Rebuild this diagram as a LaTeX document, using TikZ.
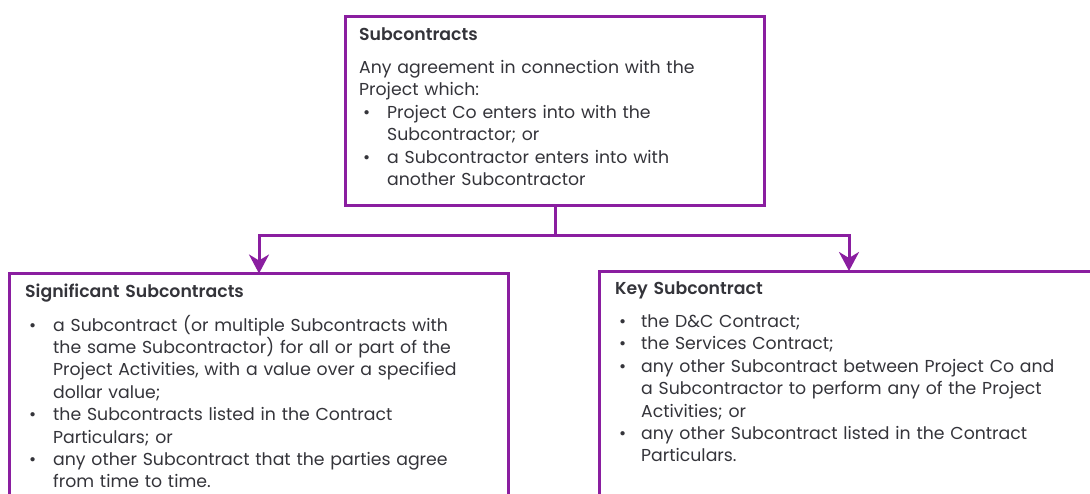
\documentclass[tikz,border=0pt]{standalone}
\usepackage{fontspec}
\setmainfont{Poppins}[BoldFont={Poppins SemiBold}]
\usetikzlibrary{arrows.meta,positioning}

\definecolor{vicpurple}{RGB}{138,30,160}
\definecolor{bodygrey}{RGB}{52,52,58}

% bullet line with hanging indent
\newcommand{\bpoint}[2][28pt]{\par\hangindent=#1\hangafter=1\noindent\makebox[#1][l]{\hspace{4pt}\textbullet}#2}

\tikzset{
    frame/.style={draw=vicpurple, line width=3pt, inner sep=0pt, outer sep=0pt, anchor=north west},
    copy/.style={anchor=north west, inner sep=0pt, text width=490pt, align=left,
        text=bodygrey, font=\fontsize{17.3}{22.4}\selectfont},
    link/.style={draw=vicpurple, line width=3pt},
    tip/.style={-{Stealth[width=20pt,length=19pt,inset=6pt]}}
}

\begin{document}
\begin{tikzpicture}[x=1pt,y=-1pt]
\useasboundingbox (0,0) rectangle (1090,493);

% boxes
\node[frame, minimum width=419pt, minimum height=189pt] (sub) at (345.5,16) {};
\node[frame, minimum width=499pt, minimum height=260pt] (sig) at (9.5,273.5) {};
\node[frame, minimum width=499pt, minimum height=260pt] (key) at (599.5,271) {};

% texts
\node[copy] (subtxt) at (359,27) {\textbf{Subcontracts}\par\vspace{11pt}%
    \noindent Any agreement in connection with the\newline Project which:%
    \bpoint{Project Co enters into with the\newline Subcontractor; or}%
    \bpoint{a Subcontractor enters into with\newline another Subcontractor}\par};

\node[copy] (sigtxt) at (25,284) {\textbf{Significant Subcontracts}\par\vspace{11pt}%
    \bpoint{a Subcontract (or multiple Subcontracts with\newline the same Subcontractor) for all or part of the\newline Project Activities, with a value over a specified\newline dollar value;}%
    \bpoint{the Subcontracts listed in the Contract\newline Particulars; or}%
    \bpoint{any other Subcontract that the parties agree\newline from time to time.}\par};

\node[copy] (keytxt) at (615,281) {\textbf{Key Subcontract}\par\vspace{11pt}%
    \bpoint[26pt]{the D\&C Contract;}%
    \bpoint[26pt]{the Services Contract;}%
    \bpoint[26pt]{any other Subcontract between Project Co and\newline a Subcontractor to perform any of the Project\newline Activities; or}%
    \bpoint[26pt]{any other Subcontract listed in the Contract\newline Particulars.}\par};

% connectors
\coordinate (split) at (555,235);
\draw[link] (sub.south) -- (split);
\draw[link, tip] (split) -| (sig.north);
\draw[link, tip] (split) -| (key.north);
\end{tikzpicture}
\end{document}
